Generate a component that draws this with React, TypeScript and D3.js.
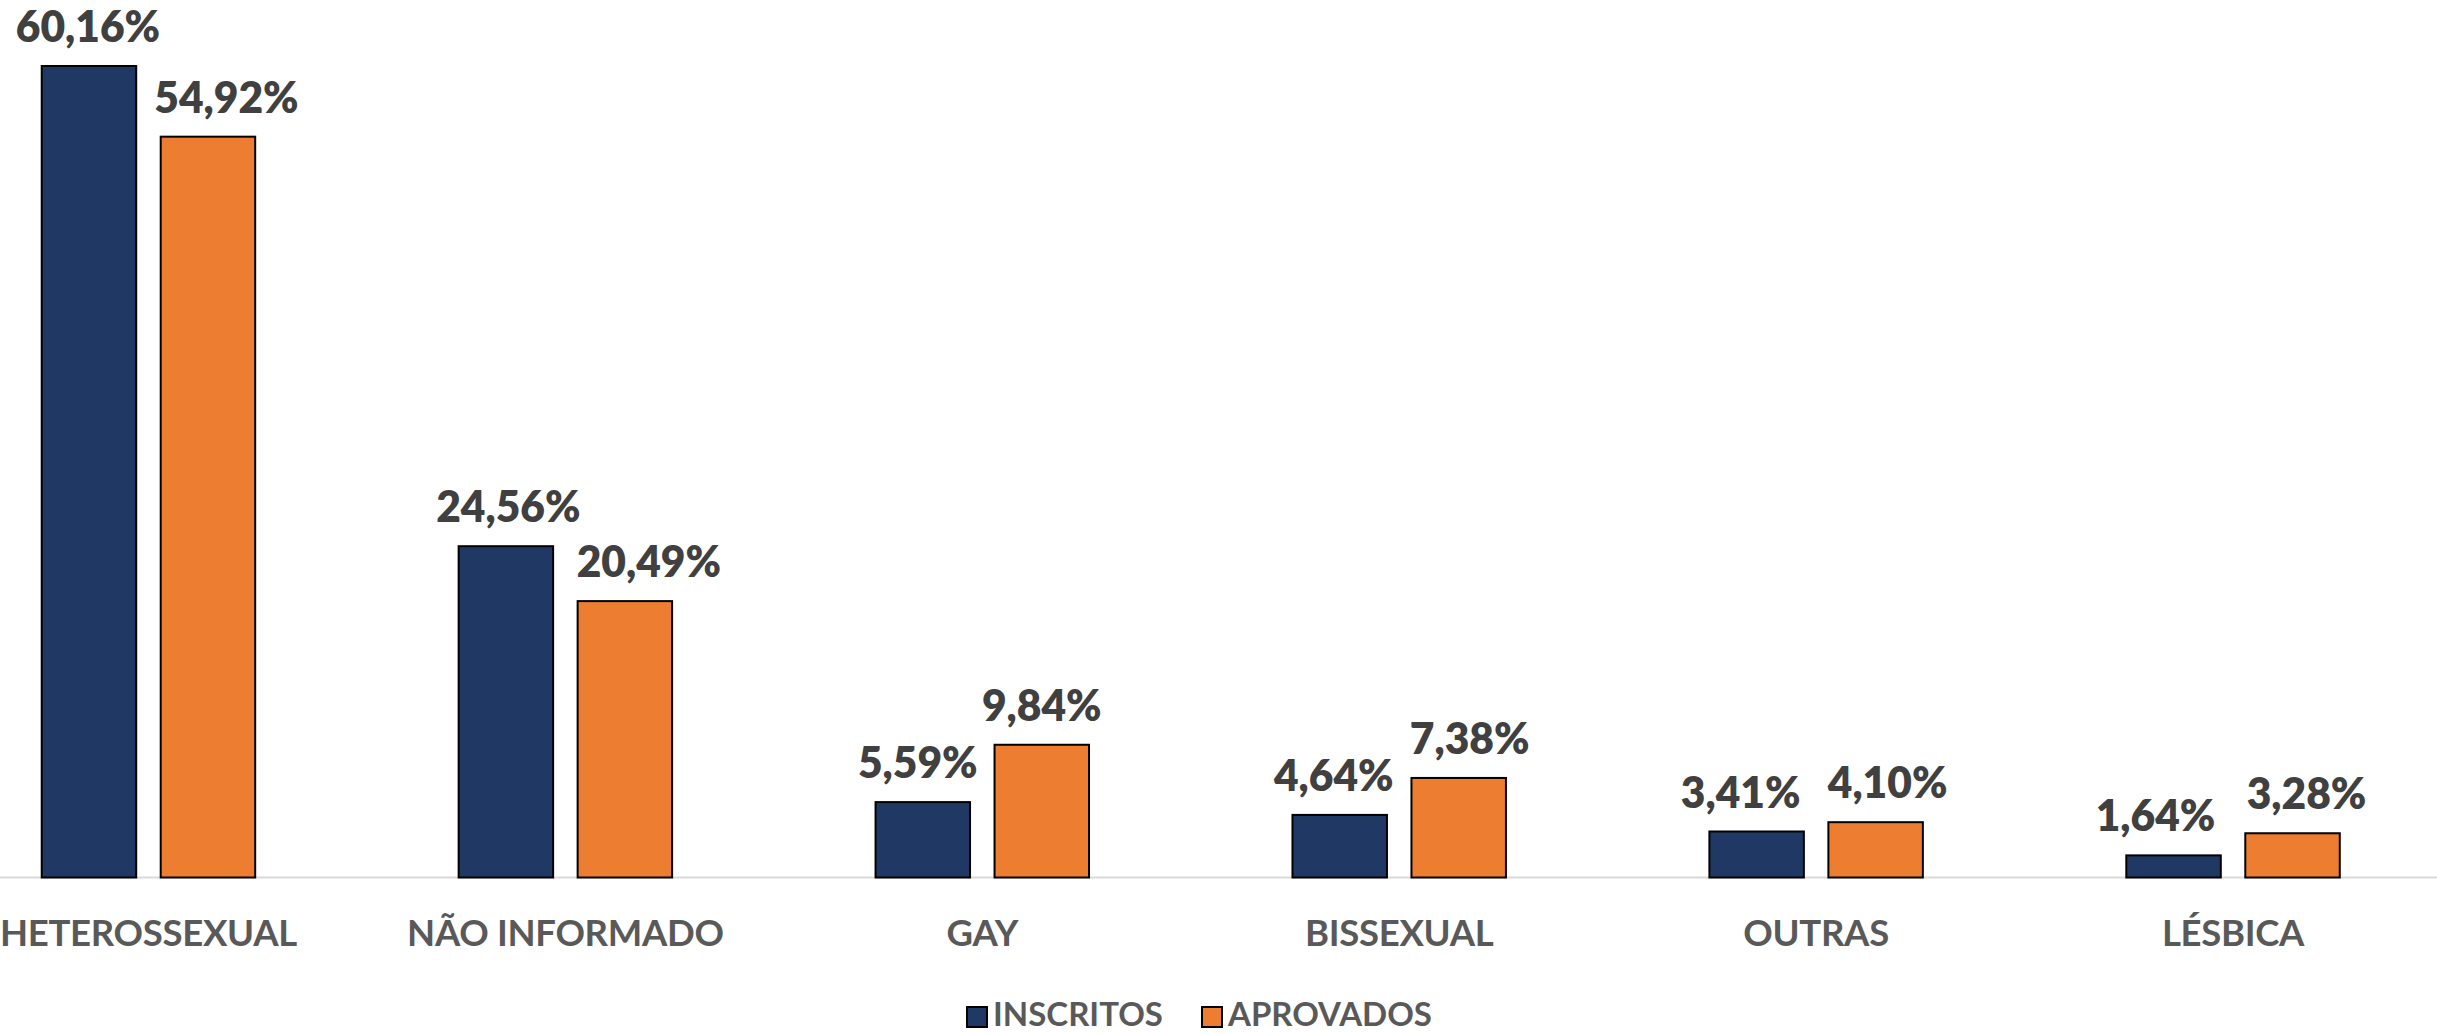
import React, { useEffect } from "react";
import * as d3 from "d3";

const categories = ["HETEROSSEXUAL", "NÃO INFORMADO", "GAY", "BISSEXUAL", "OUTRAS", "LÉSBICA"];
const seriesNames = ["INSCRITOS", "APROVADOS"];
const inscritos = [60.16, 24.56, 5.59, 4.64, 3.41, 1.64];
const aprovados = [54.92, 20.49, 9.84, 7.38, 4.1, 3.28];

// layout: horizontal nudges of the value labels (as placed in the original)
const labelShift = [
  [-1, 2.5, -5, -6, -16, -18],
  [18.5, 24, 0, 11, 12, 14],
];

const W = 2437;
const H = 1034;
const colors = ["#203864", "#ED7D31"];
const FONT = "Lato, 'Open Sans', sans-serif";

const fmt = (v: number) => v.toFixed(2).replace(".", ",") + "%";

export default function App() {
  useEffect(() => {
    document.body.style.margin = "0";
  }, []);

  const x0 = d3
    .scaleBand<string>()
    .domain(categories)
    .range([-60, 2441.5])
    .paddingInner(0.488)
    .paddingOuter(0.244);
  const x1 = d3
    .scaleBand<string>()
    .domain(seriesNames)
    .range([0, x0.bandwidth()])
    .paddingInner(0.206);
  const y = d3.scaleLinear().domain([0, 60.16]).range([877.5, 66]);
  const series = [inscritos, aprovados];

  return (
    <div style={{ position: "absolute", left: 0, top: 0 }}>
      <svg width={W} height={H} style={{ display: "block" }} fontFamily={FONT}>
        <rect x={0} y={0} width={W} height={H} fill="#ffffff" />
        <line x1={0} x2={W} y1={y(0)} y2={y(0)} stroke="#d9d9d9" strokeWidth={2} />
        {categories.map((c, ci) => (
          <g key={c} transform={`translate(${x0(c)},0)`}>
            {series.map((vals, si) => {
              const v = vals[ci];
              const bx = x1(seriesNames[si])!;
              const bw = x1.bandwidth();
              return (
                <g key={si}>
                  <rect
                    x={bx}
                    y={y(v)}
                    width={bw}
                    height={y(0) - y(v)}
                    fill={colors[si]}
                    stroke="#000000"
                    strokeWidth={2}
                  />
                  <text
                    x={bx + bw / 2 + labelShift[si][ci]}
                    y={y(v) - 24}
                    textAnchor="middle"
                    fontSize={42.5}
                    fontWeight={800}
                    fill="#404040"
                  >
                    {fmt(v)}
                  </text>
                </g>
              );
            })}
            <text
              x={x0.bandwidth() / 2}
              y={946}
              textAnchor="middle"
              fontSize={36.5}
              letterSpacing={-0.3}
              fontWeight={700}
              fill="#595959"
            >
              {c}
            </text>
          </g>
        ))}
        {seriesNames.map((s, si) => {
          const sx = [967, 1202][si];
          return (
            <g key={s}>
              <rect x={sx} y={1007} width={20} height={20} fill={colors[si]} stroke="#000" strokeWidth={2} />
              <text x={sx + 26} y={1026} fontSize={33} fontWeight={700} fill="#595959">
                {s}
              </text>
            </g>
          );
        })}
      </svg>
    </div>
  );
}
